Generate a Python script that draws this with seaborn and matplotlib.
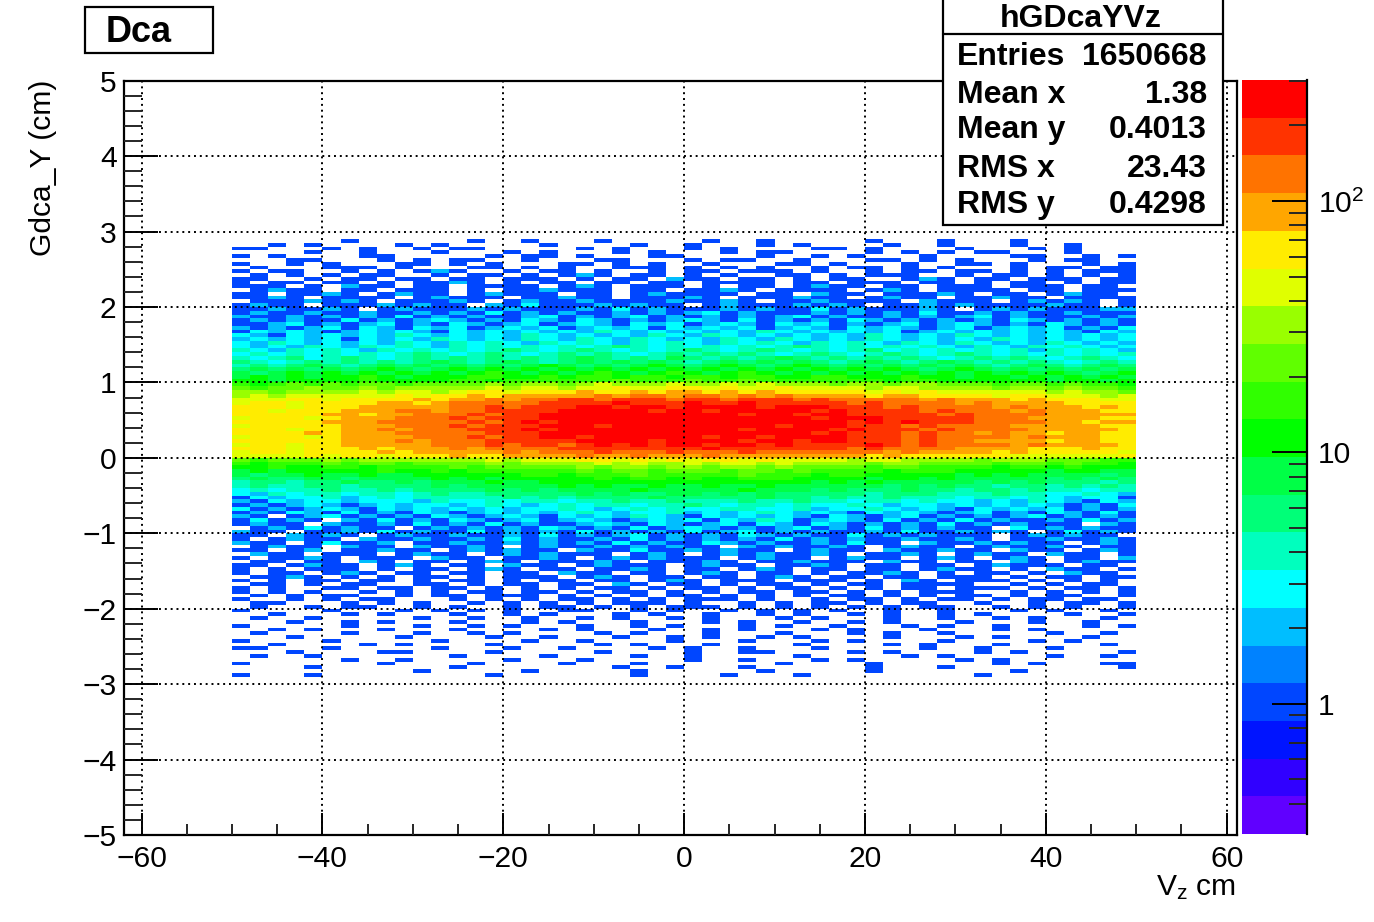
import numpy as np
import pandas as pd
import matplotlib
matplotlib.use("Agg")
import matplotlib.pyplot as plt
import seaborn as sns
from matplotlib.colors import ListedColormap, LogNorm
from matplotlib.patches import Rectangle
from matplotlib.ticker import LogLocator, NullFormatter

# Colour levels. '.' is an empty bin, a..t are the 20
# palette steps from the colour bar, bottom to top. 2 cm x 0.05 cm cells.
level_codes = "abcdefghijklmnopqrst"
palette = [
    "#6000ff", "#3000ff", "#0014ff", "#0046ff", "#0082ff",
    "#00beff", "#00ffff", "#00ffbe", "#00ff78", "#00ff46",
    "#00ff00", "#30ff00", "#60ff00", "#99ff00", "#e0ff00",
    "#ffec00", "#ffa600", "#ff7300", "#ff3300", "#ff0000",
]

# y = 2.875 ... 1.025
upper_rows = [
    "......d......d..d...d.....d..d.....d...d...d......",
    "..d.d....d.d.....d....d..d...d.d....d..d...d..d...",
    "dd...d.d..d.dd.....d.d...d.d....dd.d....d...d.d...",
    "....d..d...d...d.d...d.d...d.dd....d.d.d.dd...d...",
    "d.d....dd.....d.dd.d...dd....d..d.d...d....dd..d.d",
    "...dd...d.d.dd..d...dd...d.dd..d...dd.d.d...d.dd..",
    "d..d.d...dd.d.d...dd.d.d..d...dd.d...d..dd.d...d.d",
    ".d...ddd.d...dd.d.d..ddd.d.d.d..d.dd.d.d...d.dd.dd",
    "d.dd..d.d.dfd..d.dd.d..d.dd.ddd.d..d.dd.dd.d.d.ddd",
    ".d.d.d.dd..d.dd.d.dfd.dd.d.d..dd.d.ddd..d.dd.d.d.d",
    "dd..d.dd.dd.dd.ddd.d.dd.fdd.dd.d.dd..dfd.dd.ddd.dd",
    "d.dd.dd.d.ddfd.d.dd.dd.dd.dddd.dd.ddd.dd.d.dd.d.dd",
    "ddd.d.fdd.dd.dddd.dfd.ddd.d.dd.dfdd.dd.ddd.ddd.dd.",
    ".dfdd.dd.ddd.d.ddfddd.dd.ddfd.dddd.dfd.dddd.dd.ddd",
    "dd.ddfd.dfdd.dfddd.dd.dfdddd.dd.fdd.dddfd.dd.dfdd.",
    "ddfd.dddd.dfddd.ddfdd.dddfd.dddfdd.dfdd.ddfdd.dddd",
    ".dddfdfd.dddfd.dfddfddddfddfd.ddfdddd.fddd.dfdfd.d",
    "dfdd.dddfdfdd.fdgdddfdfdd.dfdddfdfd.ddfdfddddfdd.d",
    "ddfddfd.dfdddfdfdddfdgdfdddfdfddgdfdddfd.dfdfdddf",
    "dfddfddfddfdfdgdfdfddfdfdfgdfdddfdfdfdgddfdfddfdd",
    "fddfdfdfdgdfdfddfgdfdfgdfdfdfdfgdfddfdfdfgdfdddfdf",
    "dfdfddgdfdfgfdfdgfdgfdfdfgfdgdfdfdgfdfdfdfdgfdfdfd",
    "ddfgdfdfgdfdgfdfgdfgfdgfgdfgfdgfgdfdfgdfgfdfdgfdfd",
    "fdfdfgdgfdgfgdfgfgdfgfgdgfgfgdfgfdgfgfdfgdfgfgdfdg",
    "dgfgfdfgfgfdgfgfgfgfhgfgfgfgfhgfgfgfgdfgfgfgfgfdgf",
    "gfdgfgfgfhgfgfgfhgfgfgfhgfhgfgfgfgfhgfgfhgfgfgfgfg",
    "fgfgfgdgfgfhgfgfhgfhgfhgfgfhgfhgfgfhgfgfgfhgfgfgfg",
    "gfhgfgfgfhgfhghgfhghgfhghgfhghgfhghgfhgfhgfgfhgfgf",
    "gfgfhgfhghgfhghghghghihghghghghihghghghgfhgfhghgfg",
    "hgfhghgfhghghghihghihghghihghihghghighghghghfhghgfh",
    "ghghghghghihghihghihihghihihihghihghihghihghghghghg",
    "hghighihghihihihihijihihjihihijihihihihghihihghihgh",
    "ihghihihihijihijihijijijihijijijihijihijihihihghihi",
    "hihijihijijijijijkjijijkjijkjijkjijijijijihijihijih",
    "ijijijijkjijkjkjkjkjkjkjkjkjkjkjkjkjkjijkjijijijij",
    "jijkjkjkjkjkjklkjkjklkjklkjklkjkjkjkjkjkjkjkjkjijk",
    "jkjkjkklkjkkkllkklkllkllkllkllkkllkkklkkjkkjkjkjkj",
    "kkjkkkklkkkkllkllllllmlllmllmlllllllkllkkkkkkjkkjk",
]

# y = 0.975 ... 0.025
band_rows = [
    "lklmlmlmmlmmmmnmnnmnonnnonnononnnmnnmnnmmmlmmlmllk",
    "mlmmnmmnmnnnnnonoonoopooppopoopoooonoonnnnmnnmnmml",
    "nnmnnnnonoonoppopppqppqpqqpqpqpppppopopoooooononnm",
    "nonoooooopoppqpqqqqqrqrrqrrqrqrqqqqpqqppppoppooono",
    "oooppoppppqpqqrqrrssrsssrssrsssrsrrrrrqrqqqpqpppoo",
    "oppoppppqqpqrrrrrsssstssstsstsssssrsrrrrqrqqqqpppp",
    "pppopppqqqqqrrsrsssttsttsttttstttsssrsrrrrqrqqqpqp",
    "ppopppqqqrrqrrsssstttttsttstttttstssssrsrrrqrqqqpp",
    "pppppqqpqqrrrsrsstttttttttttsttsttsssssrsrrrrqqqqqqp"[:50],
    "opppopqqqrrrsrssstttttttttttttttstttsssssrrrqqqqpp",
    "pppppqqqrrrrrsrststtttttttttttttttststsssrrrrqqpqqp"[:50],
    "opppppqqqrrrsrssstttstttttttttstttsssrsrrrrqqqqqpp",
    "pppoppqqrqrrrssststtttttttttsttttstsssrsrrrrqqqqqp",
    "ppppqpqqqrrrrrssstttttttttttttttstsssrsrrqrqqpqqp",
    "opppopqqqqrrrsrssttsttttttsttsttttsssrsrrrrqrqqqpp",
    "ppppppqqqrqrrrsssssttttsttttsttsttsssrsrrqqqqpqqp",
    "oppoppqqqqqrrrsrssrstststtsttstsssstsrsrrrrqrqqqqpp"[:50],
    "pppopppqpqqqrqrrrrsssssssstsssssssrsrrrrqqqqpppqpp",
    "oppoppppqpqqqqqrqrrrsrrrsrrrsrrrrrrrqrqqqqpqpppppo",
    "oooopoppopppqppqqqqrqqrqqqrqqqqqqqqpqppppppoooooop",
]

# y = -0.025 ... -2.875
lower_rows = [
    "mlmmmnmnnnnnnnonoooppopopoppopoooonoonnnnmnnnmmmll",
    "lklllmlmmlmmmmnmnnnnononnonoononnnnmnnmmmmlmmlmllk",
    "kklkkllkllllmlmmmmmnmnnmnnmnnmnmmmmlmmllllkllklkkk",
    "jkjkkkkklkklkllllllmlmmlmmmlmmlmllllklllkkkkkjkkjj",
    "jijjkjjkjjkkkkkkllklllmlllllmlllkllkkkkkjkjkjjjjij",
    "ijiijjijjjjkjkjkkkkklkllklkklllkkkkjkkjkjjjjjijiji",
    "hiihiijiijijjjkjjkkkkkkkkkkkkkkkjkjkjjjjjijijiiihi",
    "hihhiihiiiijijjjjjkjkjjkjjkjjkjjjjjjijijiihiihihih",
    "ghghhihhihiiiijijijjjjkjjjjjkjjjijiiijiihiihihhghh",
    "gfhghhghhghihhiiiiijijiijjijijiiiiihiiihhhihhgghgf",
    "dgfgghfghghhhhhihihiiiijiiiiijiihihhihhhghhghgfggd",
    "fdgfggfgggfhgghghhghhihhihhhihhihhghhghggfgfhgfdgf",
    "dfdfgfdfgfggfghgfghghhghhihghhghgghgfggfgfgfgfdfdg",
    "gdfdfgfdgfgfgfgfgghgfghghgghhgghfgghgfgfdgfgfgdfdf",
    "dfdgfdgdfdgfdfgfgfghgfgghfgfghgfgfdgfgfdfgdfdgfdgd",
    "fd.dfgdfdfdgfdfgfdgfgfhgfdgfgfgfdgfdfgdfdfdfgdfdfd",
    "dgdfd.fdgdfdgfdfgdfgfdfgfgdgfhgdfgfdgdfdgdfddfdgdf",
    "dfdd.fddfdgdfdgdfddfgfdgfdfgdgfdgfdfdfdgdfdfddd.fd",
    ".dfdgdfdd.dfdfdfdgfdfdgdfgfdfdfgdfdgdfdfdd.gdfdfdd",
    "fdd.ddfdgdfddgdfdfdgdfdfdgdfgdfdfddfdgddfdfd.dgdfd",
    "dd.fdfd.dfddfddfdgdfdfgdfdfdgfdfddgdfdfddd.dfdfdd.",
    "d.dfdd.fddfddfdgdfddfdgdfdfdfdgdfdfddfddfd.ddfddfd",
    "fdd.dgddf.ddfddfdfdfdgdfddgfdfddfdgdd.fddfdfdd.dfd",
    ".dfdd.fdd.fddfd.dfddfdfdfdd.fdfddfd.dfdd.dfddfd.dd",
    "dd.df.ddfdd.dfdfdd.fddgddfdfdd.dfdd.fddfdd.fdd.dfd",
    ".fdd.ddd.dfdd.dfdfddd.dfd.dfdfddfd.ddfd.dfdd.fdd.d",
    "d.ddfd.ddd.fdd.ddfd.dfdfddd.dfdd.dfdd.dfd.dfd.dd.f",
    ".dd.dd.fd.dd.dfd.dddfd.dddfd.ddfddd.fdd.dd.fd.dfdd",
    "dd.dfdd.dfd.dd.fdd.dfddd.dfdd.ddfd.dd.dd.dfddd.dd.",
    "d.d.ddd.d.dd.dfd.dd.ddfd.dd.dfd.dd.dd.dfdd.d.fdd.d",
    "d.dd.dfd.dd.dd.dd.fdd.dd.dfd.dd.d.ddfd.d.dd.d.fdd.",
    ".ddfd.d.d.dd.d.ddd.dfd.dd.dd.dfd.dd.dd.ddd.d.dd.dd",
    "d.d.dd.dd.d.dd.d.dd.dd.dfd.ddd.ddd.d.fd.ddd.d.d.d.",
    ".dd.d.dd..dd.d.dd.dd.fd.dd.d.dd.d.dd.dddd..d.d.dd.",
    "d.d..dd.dd.dd.d.d.d.dd.d.dd.d.dd.d.d.dd.ddd.d.dd.d",
    "d.d.d..d.d.d.dd.dd.d.dd.d.d.dd.dd.d.d.ddd..d.d.d.d",
    ".d.d.dd..d.dd.ddd.d.d.d.dd.d.d.d.dd.d.d.dd.d.dd..d",
    "d..d.d.dd...d.d.d.dd.d.d.ddd.d..d.dd.d.dd.d.dd.dd.",
    ".dd...d.d.d..d.d.d.d.ddd.d..d.d.dd.d.dd..d..d.dd.d",
    ".d..d.dd..d.d..d.dd.d.d.ddd.d.d.d.d.d.dd..d.d.d..d",
    "d....d...d.d.d.d..dd..d.d..d.d.d.d..d..d...d.d..d.",
    "..d...d.d...d..d.d...d.d..d..d.d..d.d..d.d....d..d",
    ".d..d.....d..d..d..d.d..d.d...d.d...d..d..d.d...d.",
    "...d..d.d...d...d.d...d...d.d..d..d.d...d...d..d..",
    "d.....d...d..d.d...d..d.d...d.d..d...d.d..d....d.d",
    "..d.d...d...d....d.d...d..d.d...d.d...d...d.d.....",
    ".d....d...d..d.d....d.d...d...d...d.d..d.....d..d.",
    "...d.....d....d..d...d..d.d..d.d....d...d.d....d..",
    "d....d.....d....d..d....d...d...d.d....d....d.d...",
    "..d....d.d....d.....d.d...d....d....d.d...d.....d.",
    "dd...d.....d...d..d....d.d..d...d.....d..d...d....",
    "...d....dd....d.....d....d..dd....d.d....d.d.....d",
    ".d..d.......d....d....d..d.....d.....d.d.....d..d.",
    "......d..d.....d...d.....d..d...d.d.....d.d.......",
    "d.......d....d....d...d.......d....d......d.d...dd",
    "....d.......d........d..d...d......d...d.........d.",
    "..........d.....d.....d......d.....d.......d.......",
    "d...d.........d.......d....d...d.........d.........",
]

x_ticks = [-60, -40, -20, 0, 20, 40, 60]
y_ticks = [-5, -4, -3, -2, -1, 0, 1, 2, 3, 4, 5]
stat_names = ["Entries", "Mean x", "Mean y", "RMS x", "RMS y"]
stat_values = ["1650668", "1.38", "0.4013", "23.43", "0.4298"]

W, H = 1374, 922
x_min, x_max = -62.0, 61.14
y_top = 5.0
dx, dy = 2.0, 0.05

sns.set_theme(style="ticks")
plt.rcParams["font.family"] = ["Liberation Sans", "DejaVu Sans"]
plt.rcParams["mathtext.default"] = "regular"
plt.rcParams["axes.edgecolor"] = "black"

z_min, z_max = 0.303, 303.0
steps = np.geomspace(z_min, z_max, len(palette) + 1)
centres = np.sqrt(steps[:-1] * steps[1:])

rows = upper_rows + band_rows + lower_rows
n_cols = int(round((x_max - x_min) / dx)) + 1
n_rows = int(round(10 / dy))
grid = np.full((n_rows, n_cols), np.nan)
first_col = int((-50 - x_min) / dx)
first_row = int(round((y_top - 2.9) / dy))
for r, row in enumerate(rows):
    for c, ch in enumerate(row[:50].ljust(50, row[-1])):
        if ch != ".":
            grid[first_row + r, first_col + c] = centres[level_codes.index(ch)]

fig = plt.figure(figsize=(W / 100, H / 100), dpi=100, facecolor="white")


def box(left, top, right, bottom):
    return [left / W, 1 - bottom / H, (right - left) / W, (bottom - top) / H]


ax = fig.add_axes(box(123.5, 80.7, 1237, 835))
cax = fig.add_axes(box(1242, 80, 1307, 834))

sns.heatmap(
    pd.DataFrame(grid), ax=ax, cbar_ax=cax,
    cmap=ListedColormap(palette), norm=LogNorm(vmin=z_min, vmax=z_max),
    xticklabels=False, yticklabels=False,
)
ax.set_xlim(0, (x_max - x_min) / dx)
ax.set_ylim(n_rows, 0)


def xpos(v):
    return (np.asarray(v, dtype=float) - x_min) / dx


def ypos(v):
    return (y_top - np.asarray(v, dtype=float)) / dy


x_minor = [v for v in range(-55, 60, 5) if v % 20 != 0]
y_minor = [v / 10 for v in range(-48, 50, 2) if v % 10 != 0]
ax.set_xticks(xpos(x_ticks))
ax.set_xticklabels([str(v).replace("-", "\u2212") for v in x_ticks], fontsize=21.6, rotation=0)
ax.set_yticks(ypos(y_ticks))
ax.set_yticklabels([str(v).replace("-", "\u2212") for v in y_ticks], fontsize=21.6, rotation=0)
ax.set_xticks(xpos(x_minor), minor=True)
ax.set_yticks(ypos(y_minor), minor=True)
ax.tick_params(axis="x", which="major", direction="in", length=16, width=1.4, pad=7, bottom=True, colors="black")
ax.tick_params(axis="x", which="minor", direction="in", length=8, width=1.4, bottom=True)
ax.tick_params(axis="y", which="major", direction="in", length=24.5, width=1.4, pad=5, left=True, colors="black")
ax.tick_params(axis="y", which="minor", direction="in", length=13, width=1.4, left=True)
ax.grid(True, which="major", color="black", linewidth=1.4, linestyle=(0, (1, 2)))
ax.set_axisbelow(False)
for spine in ax.spines.values():
    spine.set_visible(True)
    spine.set_linewidth(1.6)
    spine.set_color("black")

cbar = ax.collections[0].colorbar
cbar.set_ticks([1, 10, 100], labels=["1", "10", "$10^{2}$"])
cbar.ax.yaxis.set_minor_locator(LogLocator(base=10, subs=range(2, 10), numticks=10))
cbar.ax.yaxis.set_minor_formatter(NullFormatter())
cbar.ax.tick_params(which="major", direction="in", length=25, width=1.4, labelsize=21.6, pad=8, right=True, colors="black")
cbar.ax.tick_params(which="minor", direction="in", length=13, width=1.4, right=True)
cbar.ax.set_axisbelow(False)
cbar.outline.set_visible(False)
cbar.ax.spines["right"].set_visible(True)
cbar.ax.spines["right"].set_linewidth(1.6)
cbar.ax.spines["right"].set_color("black")
cbar.ax.spines["right"].set_zorder(4)

fig.text(43 / W, 1 - 80 / H, "Gdca_Y (cm)", rotation=90, ha="center", va="top", fontsize=21.6, color="black")
fig.text(1236 / W, 1 - 888 / H, "V$_{z}$ cm", ha="right", va="center", fontsize=21.6, color="black")


def px_rect(left, top, right, bottom, lw=1.6):
    return Rectangle((left / W, 1 - bottom / H), (right - left) / W, (bottom - top) / H,
                     transform=fig.transFigure, facecolor="white", edgecolor="black",
                     linewidth=lw, zorder=5)


fig.add_artist(px_rect(85, 7, 213, 53))
fig.text(139 / W, 1 - 32 / H, "Dca", ha="center", va="center", fontsize=26, fontweight="bold",
         color="black", zorder=6)

fig.add_artist(px_rect(943, -4, 1223, 225))
fig.add_artist(plt.Line2D([943 / W, 1223 / W], [1 - 34 / H, 1 - 34 / H], transform=fig.transFigure,
                          color="black", linewidth=1.6, zorder=6))
fig.text(1081 / W, 1 - 19 / H, "hGDcaYVz", ha="center", va="center", fontsize=23, fontweight="bold",
         color="black", zorder=6)
stat_y = [57, 95, 130, 169, 205]
for name, value, y in zip(stat_names, stat_values, stat_y):
    fig.text(957 / W, 1 - y / H, name, ha="left", va="center", fontsize=23, fontweight="bold",
             color="black", zorder=6)
    fig.text(1207 / W, 1 - y / H, value, ha="right", va="center", fontsize=23, fontweight="bold",
             color="black", zorder=6)

fig.savefig("out.png", dpi=100)
